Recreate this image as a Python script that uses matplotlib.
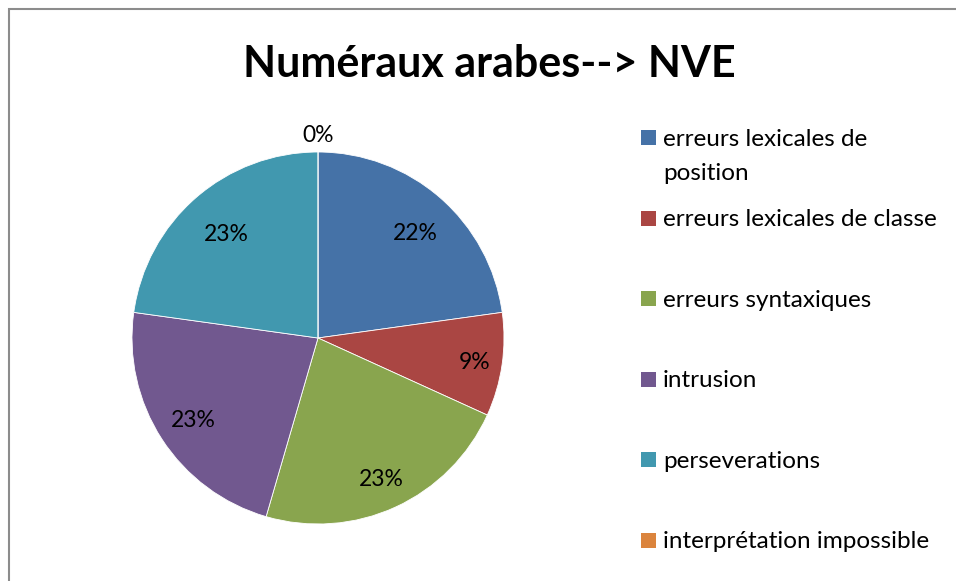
import matplotlib.pyplot as plt
from matplotlib.patches import Rectangle

categories = ["erreurs lexicales de\nposition", "erreurs lexicales de classe",
              "erreurs syntaxiques", "intrusion", "perseverations",
              "interprétation impossible"]
# shares
values = [22.8, 9.0, 22.7, 22.7, 22.8, 0.0]
pct_labels = ["22%", "9%", "23%", "23%", "23%", "0%"]
colors = ["#4572A7", "#AA4643", "#89A54E", "#71588F", "#4198AF", "#DB843D"]

plt.rcParams['font.family'] = ['Lato', 'DejaVu Sans']

W, H = 956, 581
fig = plt.figure(figsize=(W / 100, H / 100), dpi=100)
fig.patch.set_facecolor('white')

# chart frame (only top and left edges fall inside the image)
fig.patches.append(Rectangle((8.5 / W, -0.1), 1.2, 1.1 - 9.5 / H, transform=fig.transFigure,
                             fill=False, edgecolor='#8c8c8c', linewidth=1.5))

cx, cy, r = 318, 338, 186
ax = fig.add_axes([(cx - r) / W, (H - cy - r) / H, 2 * r / W, 2 * r / H])
wedges, texts = ax.pie(values, labels=pct_labels, colors=colors, startangle=90,
                       counterclock=False, radius=1, labeldistance=0.8,
                       wedgeprops=dict(edgecolor='white', linewidth=0.6),
                       textprops=dict(fontsize=16.5, color='black'))
# label distance and small vertical nudge per slice (Excel best-fit placement)
dists = [0.8, 0.85, 0.81, 0.8, 0.75, 1.1]
nudges = [-0.03, 0.0, -0.015, 0.0, 0.0, 0.0]
for t, d, dy in zip(texts, dists, nudges):
    x, y = t.get_position()
    n = (x * x + y * y) ** 0.5
    if n == 0:
        x, y, n = 0, 1, 1
    t.set_position((x / n * d, y / n * d + dy))
    t.set_ha('center')
    t.set_va('center_baseline')
ax.set_xlim(-1, 1)
ax.set_ylim(-1, 1)
ax.set_aspect('equal')
ax.axis('off')

fig.text(0.512, 1 - 77 / H, "Numéraux arabes--> NVE", ha='center', va='baseline',
         fontsize=31, fontweight='bold')

# legend, Excel style: marker level with the first line of each entry
y0, step = 137.5, 80.6
for i, (lab, c) in enumerate(zip(categories, colors)):
    yc = y0 + i * step
    fig.patches.append(Rectangle((641 / W, 1 - (yc + 7.5) / H), 15 / W, 15 / H,
                                 transform=fig.transFigure, facecolor=c, edgecolor='none'))
    fig.text(663 / W, 1 - (yc - 9) / H, lab, ha='left', va='top', fontsize=17.5,
             linespacing=1.8)

fig.savefig("out.png", dpi=100)
